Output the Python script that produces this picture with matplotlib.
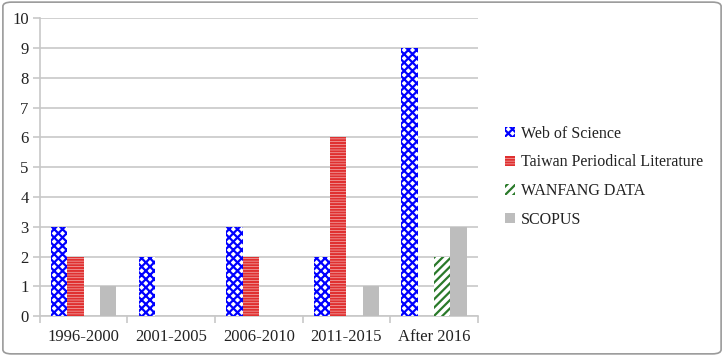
import matplotlib
matplotlib.use("Agg")
import numpy as np
import matplotlib.pyplot as plt
from matplotlib.patches import FancyBboxPatch

# data
periodos = ["1996-2000", "2001-2005", "2006-2010", "2011-2015", "After 2016"]
web_of_science = [3, 2, 3, 2, 9]
taiwan = [2, 0, 2, 6, 0]
wanfang = [0, 0, 0, 0, 2]
scopus = [1, 0, 0, 1, 3]

series = ["Web of Science", "Taiwan Periodical Literature", "WANFANG DATA", "SCOPUS"]
valores = [web_of_science, taiwan, wanfang, scopus]

plt.rcParams['font.family'] = ['Liberation Serif', 'DejaVu Serif']
plt.rcParams['hatch.linewidth'] = 1.6

# estilos (face, hatch/edge, hatch)
estilos = [
    ("white", "#0000ff", "xxxx"),
    ("#f6d0d0", "#e03030", "------"),
    ("white", "#2a7a2a", "////"),
    ("#bdbdbd", "#bdbdbd", None),
]

fig = plt.figure(figsize=(7.24, 3.56), dpi=100)
ax = fig.add_axes([0.055, 0.112, 0.605, 0.837])

x = np.arange(len(periodos))
ancho = 0.186
for i, (nombre, vals) in enumerate(zip(series, valores)):
    fc, ec, h = estilos[i]
    ax.bar(x + (i - 1.5) * ancho, vals, ancho, facecolor=fc, edgecolor=ec,
           hatch=h, linewidth=0, label=nombre, zorder=3)

ax.set_xlim(-0.5, len(periodos) - 0.5)
ax.set_ylim(0, 10)
ax.set_yticks(range(0, 11))
ax.grid(axis="y", color="#c8c8c8", linewidth=1.2, zorder=0)

# ticks del eje x en los limites de cada grupo
ax.set_xticks(np.arange(-0.5, len(periodos)), minor=False)
ax.set_xticklabels([])
ax.set_xticks(x, minor=True)
ax.set_xticklabels(periodos, minor=True)
ax.tick_params(axis="x", which="major", length=5, color="#c8c8c8", width=1.2)
ax.tick_params(axis="x", which="minor", length=0, labelsize=12, pad=9, labelcolor="#222222")
ax.tick_params(axis="y", length=5, color="#c8c8c8", width=1.2, labelsize=12, pad=3,
               labelcolor="#222222")

for s in ["top", "right"]:
    ax.spines[s].set_visible(False)
for s in ["left", "bottom"]:
    ax.spines[s].set_color("#c8c8c8")
    ax.spines[s].set_linewidth(1.2)

leg = ax.legend(loc="center left", bbox_to_anchor=(1.03, 0.468), frameon=False,
                fontsize=11.5, handlelength=0.6, handleheight=0.6, handletextpad=0.4,
                labelspacing=0.8)
for t in leg.get_texts():
    t.set_color("#222222")

# borde redondeado de la figura
borde = FancyBboxPatch((0.004, 0.006), 0.992, 0.988, boxstyle="round,pad=0,rounding_size=0.012",
                       transform=fig.transFigure, facecolor="none", edgecolor="#9a9a9a",
                       linewidth=1.2)
fig.patches.append(borde)

fig.savefig("out.png", dpi=100)
